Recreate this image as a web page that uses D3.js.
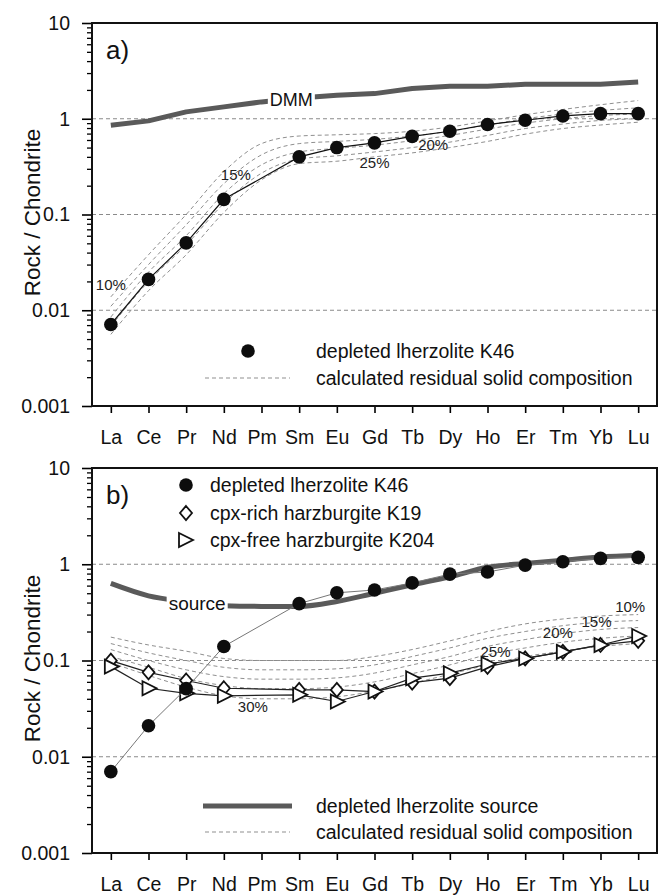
<!DOCTYPE html>
<html>
<head>
<meta charset="utf-8">
<script src="https://cdn.jsdelivr.net/npm/d3@7"></script>
<style>
    body { margin: 0; background: #fff; }
    svg { display: block; font-family: "Liberation Sans", Arial, sans-serif; }
</style>
</head>
<body>
<svg id="chart" width="664" height="895"></svg>
<script>
// REE order on the x axis
const elements = ["La", "Ce", "Pr", "Nd", "Pm", "Sm", "Eu", "Gd", "Tb", "Dy", "Ho", "Er", "Tm", "Yb", "Lu"];
const majorTicks = [0.001, 0.01, 0.1, 1, 10];

// panel a) values (null = not measured)
const dmm = [0.855, 0.95, 1.18, 1.33, 1.5, 1.65, 1.76, 1.83, 2.07, 2.18, 2.18, 2.29, 2.29, 2.29, 2.42];
const k46a = [0.0071, 0.021, 0.0505, 0.144, null, 0.40, 0.50, 0.56, 0.655, 0.74, 0.87, 0.965, 1.07, 1.13, 1.13];
const residA1 = [0.0138, 0.038, 0.10, 0.28, 0.55, 0.66, 0.68, 0.70, 0.74, 0.82, 0.95, 1.10, 1.25, 1.40, 1.55];
const residA2 = [0.011, 0.030, 0.078, 0.21, 0.42, 0.55, 0.58, 0.61, 0.66, 0.74, 0.86, 1.00, 1.12, 1.22, 1.30];
const residA3 = [0.0085, 0.025, 0.060, 0.165, 0.33, 0.45, 0.49, 0.53, 0.59, 0.67, 0.78, 0.90, 1.00, 1.08, 1.12];
const residA4 = [0.0068, 0.020, 0.048, 0.13, 0.27, 0.38, 0.41, 0.45, 0.50, 0.57, 0.67, 0.79, 0.88, 0.96, 1.00];
const residA5 = [0.0056, 0.016, 0.038, 0.105, 0.23, 0.34, 0.36, 0.40, 0.44, 0.50, 0.58, 0.69, 0.79, 0.86, 0.92];

// panel b) values
const source = [0.632, 0.47, 0.41, 0.37, 0.365, 0.365, 0.41, 0.50, 0.61, 0.74, 0.93, 1.02, 1.10, 1.19, 1.24];
const k46b = [0.0070, 0.021, 0.051, 0.140, null, 0.39, 0.505, 0.54, 0.64, 0.79, 0.83, 0.98, 1.06, 1.15, 1.18];
const k19 = [0.0996, 0.0754, 0.062, 0.0515, null, 0.0495, 0.0495, 0.0476, 0.059, 0.0655, 0.086, 0.105, 0.123, 0.145, 0.160];
const k204 = [0.0864, 0.0515, 0.0456, 0.043, null, 0.044, 0.0375, 0.0476, 0.0655, 0.0738, 0.092, 0.105, 0.123, 0.145, 0.180];
const residB10 = [0.175, 0.145, 0.125, 0.105, 0.10, 0.10, 0.10, 0.11, 0.13, 0.16, 0.20, 0.24, 0.27, 0.29, 0.30];
const residB15 = [0.150, 0.120, 0.100, 0.085, 0.080, 0.080, 0.082, 0.090, 0.110, 0.135, 0.170, 0.20, 0.23, 0.25, 0.26];
const residB20 = [0.130, 0.100, 0.080, 0.068, 0.064, 0.064, 0.066, 0.074, 0.090, 0.110, 0.140, 0.165, 0.19, 0.21, 0.22];
const residB25 = [0.110, 0.085, 0.065, 0.055, 0.051, 0.051, 0.053, 0.060, 0.073, 0.090, 0.115, 0.135, 0.155, 0.17, 0.18];
const residB30 = [0.095, 0.070, 0.053, 0.043, 0.040, 0.040, 0.042, 0.048, 0.058, 0.072, 0.090, 0.110, 0.125, 0.14, 0.15];

// melting degree labels: [element, offset px, value, text]
const labelsA = [["La", 0, 0.0183, "10%"], ["Nd", 12, 0.257, "15%"], ["Tb", 21, 0.529, "20%"], ["Gd", 0, 0.343, "25%"]];
const labelsB = [["Lu", -8, 0.359, "10%"], ["Yb", -4, 0.253, "15%"], ["Tm", -5, 0.193, "20%"], ["Ho", 8, 0.123, "25%"], ["Nd", 29, 0.0332, "30%"]];

const svg = d3.select("#chart");
const left = 92, right = 657;

const x = d3.scalePoint()
    .domain(elements)
    .range([left, right])
    .padding(0.5);

// diamond and right-pointing triangle used for the harzburgites
const diamondPath = "M0,-7L6,0L0,7L-6,0Z";
const trianglePath = "M-6,-7L8,0L-6,7Z";

function toPoints(values) {
    return values.map(function(v, i) { return { el: elements[i], v: v }; })
        .filter(function(d) { return d.v !== null; });
}

// Function to draw the frame, grid and axes of one panel
function drawFrame(g, y, top, bottom, tag) {
    // dashed horizontal grid at 0.01, 0.1 and 1
    g.selectAll(".grid")
        .data([0.01, 0.1, 1])
        .enter().append("line")
        .attr("x1", left).attr("x2", right)
        .attr("y1", function(d) { return y(d); })
        .attr("y2", function(d) { return y(d); })
        .attr("stroke", "#8a8a8a")
        .attr("stroke-width", 1)
        .attr("stroke-dasharray", "4,3");

    // minor ticks
    var minor = [];
    [0.001, 0.01, 0.1, 1].forEach(function(dec) {
        for (var k = 2; k <= 9; k++) minor.push(dec * k);
    });
    g.append("g")
        .attr("transform", "translate(" + left + ",0)")
        .call(d3.axisLeft(y).tickValues(minor).tickSize(5).tickFormat(""))
        .call(function(a) { a.select(".domain").remove(); })
        .selectAll("line").attr("stroke-width", 1.3);

    // major ticks with labels
    g.append("g")
        .attr("transform", "translate(" + left + ",0)")
        .call(d3.axisLeft(y).tickValues(majorTicks).tickSize(10).tickPadding(12).tickFormat(d3.format("~g")))
        .call(function(a) { a.select(".domain").remove(); })
        .call(function(a) {
            a.selectAll("line").attr("stroke-width", 1.6);
            a.selectAll("text").attr("font-size", "19.5px").attr("font-family", "Liberation Sans, Arial, sans-serif").attr("fill", "#111");
        });

    // element ticks below the frame
    g.append("g")
        .attr("transform", "translate(0," + bottom + ")")
        .call(d3.axisBottom(x).tickSize(7).tickPadding(17))
        .call(function(a) { a.select(".domain").remove(); })
        .call(function(a) {
            a.selectAll("line").attr("stroke-width", 1.6);
            a.selectAll("text").attr("font-size", "19.5px").attr("font-family", "Liberation Sans, Arial, sans-serif").attr("fill", "#111");
        });

    // box
    g.append("rect")
        .attr("x", left).attr("y", top)
        .attr("width", right - left).attr("height", bottom - top)
        .attr("fill", "none")
        .attr("stroke", "#111")
        .attr("stroke-width", 2);

    // y title
    g.append("text")
        .attr("transform", "translate(40," + ((top + bottom) / 2 - 2) + ") rotate(-90)")
        .attr("text-anchor", "middle")
        .attr("font-size", "22.5px")
        .attr("fill", "#111")
        .text("Rock / Chondrite");

    // panel tag
    g.append("text")
        .attr("x", left + 14)
        .attr("y", top + 36)
        .attr("font-size", "26px")
        .attr("fill", "#111")
        .text(tag);
}

function drawResiduals(g, y, curves) {
    var line = d3.line()
        .x(function(d) { return x(d.el); })
        .y(function(d) { return y(d.v); })
        .curve(d3.curveMonotoneX);
    g.selectAll(".resid")
        .data(curves)
        .enter().append("path")
        .attr("d", function(c) { return line(toPoints(c)); })
        .attr("fill", "none")
        .attr("stroke", "#8f8f8f")
        .attr("stroke-width", 1)
        .attr("stroke-dasharray", "4,3");
}

function drawThick(g, y, values, smooth) {
    var line = d3.line()
        .x(function(d) { return x(d.el); })
        .y(function(d) { return y(d.v); })
        .curve(smooth ? d3.curveMonotoneX : d3.curveLinear);
    g.append("path")
        .attr("d", line(toPoints(values)))
        .attr("fill", "none")
        .attr("stroke", "#5a5a5a")
        .attr("stroke-width", 5)
        .attr("stroke-linejoin", "round");
}

function drawSeries(g, y, values, lineColor, lineWidth, shape) {
    var pts = toPoints(values);
    var line = d3.line()
        .x(function(d) { return x(d.el); })
        .y(function(d) { return y(d.v); });
    g.append("path")
        .attr("d", line(pts))
        .attr("fill", "none")
        .attr("stroke", lineColor)
        .attr("stroke-width", lineWidth);

    var marks = g.append("g").selectAll("path.mark")
        .data(pts)
        .enter();
    if (shape === "circle") {
        marks.append("circle")
            .attr("cx", function(d) { return x(d.el); })
            .attr("cy", function(d) { return y(d.v); })
            .attr("r", 6.8)
            .attr("fill", "#0d0d0d");
    } else {
        marks.append("path")
            .attr("d", shape === "diamond" ? diamondPath : trianglePath)
            .attr("transform", function(d) { return "translate(" + x(d.el) + "," + y(d.v) + ")"; })
            .attr("fill", "#fff")
            .attr("stroke", "#111")
            .attr("stroke-width", 1.8);
    }
}

function drawLabels(g, y, labels) {
    g.selectAll(".pct")
        .data(labels)
        .enter().append("text")
        .attr("x", function(d) { return x(d[0]) + d[1]; })
        .attr("y", function(d) { return y(d[2]); })
        .attr("dy", "0.35em")
        .attr("text-anchor", "middle")
        .attr("font-size", "15px")
        .attr("fill", "#222")
        .text(function(d) { return d[3]; });
}

// label sitting on a thick line, with a white gap behind it
function lineLabel(g, cx, cy, text, size) {
    var t = g.append("text")
        .attr("x", cx).attr("y", cy)
        .attr("dy", "0.35em")
        .attr("text-anchor", "middle")
        .attr("font-size", size)
        .attr("fill", "#111")
        .text(text);
    var b = t.node().getBBox();
    g.insert("rect", function() { return t.node(); })
        .attr("x", b.x - 2).attr("y", b.y + 2)
        .attr("width", b.width + 4).attr("height", b.height - 4)
        .attr("fill", "#fff");
}

function legendText(g, lx, ly, text) {
    g.append("text")
        .attr("x", lx).attr("y", ly)
        .attr("dy", "0.35em")
        .attr("font-size", "19.5px")
        .attr("fill", "#111")
        .text(text);
}

// ---------- panel a ----------
const ga = svg.append("g");
const ya = d3.scaleLog().domain([0.001, 10]).range([406, 23]);
drawFrame(ga, ya, 23, 406, "a)");
drawResiduals(ga, ya, [residA1, residA2, residA3, residA4, residA5]);
drawThick(ga, ya, dmm, false);
lineLabel(ga, (x("Pm") + x("Sm")) / 2 + 11, ya(1.6), "DMM", "18px");
drawSeries(ga, ya, k46a, "#111", 1.2, "circle");
drawLabels(ga, ya, labelsA);

// legend a
ga.append("circle").attr("cx", 248).attr("cy", 351).attr("r", 6.8).attr("fill", "#0d0d0d");
legendText(ga, 316, 351, "depleted lherzolite K46");
ga.append("line").attr("x1", 205).attr("x2", 290).attr("y1", 378).attr("y2", 378)
    .attr("stroke", "#8f8f8f").attr("stroke-width", 1.2).attr("stroke-dasharray", "4,3");
legendText(ga, 316, 378, "calculated residual solid composition");

// ---------- panel b ----------
const gb = svg.append("g");
const yb = d3.scaleLog().domain([0.001, 10]).range([853, 468]);
drawFrame(gb, yb, 468, 853, "b)");
drawResiduals(gb, yb, [residB10, residB15, residB20, residB25, residB30]);
drawThick(gb, yb, source, true);
lineLabel(gb, x("Pr") + 11, yb(0.395), "source", "19px");
drawSeries(gb, yb, k19, "#222", 1.2, "diamond");
drawSeries(gb, yb, k204, "#222", 1.2, "triangle");
drawSeries(gb, yb, k46b, "#777", 1, "circle");
drawLabels(gb, yb, labelsB);

// legend b (top)
gb.append("circle").attr("cx", 186).attr("cy", 485).attr("r", 6.8).attr("fill", "#0d0d0d");
legendText(gb, 210, 485, "depleted lherzolite K46");
gb.append("path").attr("d", diamondPath).attr("transform", "translate(186,513)")
    .attr("fill", "#fff").attr("stroke", "#111").attr("stroke-width", 1.8);
legendText(gb, 210, 513, "cpx-rich harzburgite K19");
gb.append("path").attr("d", trianglePath).attr("transform", "translate(185,540)")
    .attr("fill", "#fff").attr("stroke", "#111").attr("stroke-width", 1.8);
legendText(gb, 210, 540, "cpx-free harzburgite K204");

// legend b (bottom)
gb.append("line").attr("x1", 203).attr("x2", 292).attr("y1", 806).attr("y2", 806)
    .attr("stroke", "#5a5a5a").attr("stroke-width", 5);
legendText(gb, 316, 806, "depleted lherzolite source");
gb.append("line").attr("x1", 205).attr("x2", 290).attr("y1", 832).attr("y2", 832)
    .attr("stroke", "#8f8f8f").attr("stroke-width", 1.2).attr("stroke-dasharray", "4,3");
legendText(gb, 316, 832, "calculated residual solid composition");
</script>
</body>
</html>
